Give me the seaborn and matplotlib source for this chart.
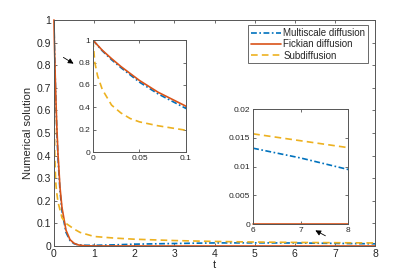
import numpy as np
import pandas as pd
import seaborn as sns
import matplotlib
matplotlib.use("Agg")
import matplotlib.pyplot as plt

# values
t_fick = [0, 0.01, 0.02, 0.03, 0.05, 0.07, 0.1, 0.15, 0.2, 0.3, 0.4, 0.5, 0.6, 0.7, 0.8, 1, 2, 3, 4, 5, 6, 7, 8]
fickian = [1, 0.91, 0.835, 0.765, 0.64, 0.535, 0.41, 0.26, 0.17, 0.07, 0.028, 0.012, 0.005, 0.002, 0.001, 0, 0, 0, 0, 0, 0, 0, 0]

t_multi = [0, 0.01, 0.02, 0.03, 0.05, 0.07, 0.1, 0.15, 0.2, 0.3, 0.4, 0.5, 0.6, 0.8, 1, 1.5, 2, 3, 4, 5, 6, 7, 8]
multiscale = [1, 0.905, 0.825, 0.755, 0.625, 0.52, 0.39, 0.245, 0.155, 0.06, 0.024, 0.01, 0.005, 0.003, 0.003, 0.005, 0.008, 0.011, 0.0135, 0.0138, 0.0132, 0.0115, 0.0095]

t_sub = [0, 0.002, 0.005, 0.01, 0.02, 0.03, 0.04, 0.05, 0.07, 0.1, 0.2, 0.3, 0.5, 0.65, 1, 1.5, 2, 3, 4, 5, 6, 7, 8]
subdiff = [1, 0.8, 0.68, 0.56, 0.42, 0.35, 0.3, 0.27, 0.235, 0.195, 0.125, 0.1, 0.075, 0.06, 0.042, 0.035, 0.03, 0.024, 0.02, 0.0175, 0.0157, 0.0145, 0.0133]

series = [
    ("Multiscale diffusion", t_multi, multiscale, "#0072BD", (0, (3.5, 1.5, 1, 1.5))),
    ("Fickian diffusion", t_fick, fickian, "#D95319", "-"),
    ("Subdiffusion", t_sub, subdiff, "#EDB120", (0, (4, 2.5))),
]

sns.set_style("ticks")
plt.rcParams["font.family"] = ["Liberation Sans", "DejaVu Sans"]
plt.rcParams["xtick.direction"] = "in"
plt.rcParams["ytick.direction"] = "in"

fig = plt.figure(figsize=(4.15, 2.77), dpi=100)
ax = fig.add_axes([0.130, 0.112, 0.774, 0.816])
ins1 = fig.add_axes([0.224, 0.451, 0.224, 0.404])
ins2 = fig.add_axes([0.610, 0.191, 0.229, 0.415])
xr = {ax: (0, 8), ins1: (0, 0.1), ins2: (6, 8)}

for a in (ax, ins1, ins2):
    lo, hi = xr[a]
    for name, t, y, c, ls in series:
        df = pd.DataFrame({"t": t, "y": y})
        df = df[(df.t >= lo) & (df.t <= hi)] if a is ins2 else df
        sns.lineplot(data=df, x="t", y="y", ax=a, color=c, linestyle=ls, linewidth=1.2,
                     label=name if a is ax else None)
    for s in a.spines.values():
        s.set_color("#555555")
        s.set_linewidth(0.7)
    a.tick_params(top=True, right=True, length=2.5, width=0.6, color="#555555",
                  labelcolor="#262626", pad=2)
    a.set_xlabel("")
    a.set_ylabel("")

ins2.lines[1].set_clip_on(False)
ax.lines[1].set_clip_on(False)

ax.set_xlim(0, 8)
ax.set_ylim(0, 1)
ax.set_xticks(range(9))
ax.set_yticks(np.round(np.arange(0, 1.01, 0.1), 1))
ax.set_yticklabels([f"{v:g}" for v in np.round(np.arange(0, 1.01, 0.1), 1)])
ax.tick_params(labelsize=7.5)
ax.set_xlabel("t", fontsize=8, color="#262626", labelpad=1)
ax.set_ylabel("Numerical solution", fontsize=8, color="#262626", labelpad=3)

ins1.set_xlim(0, 0.1)
ins1.set_ylim(0, 1)
ins1.set_xticks([0, 0.05, 0.1])
ins1.set_xticklabels(["0", "0.05", "0.1"])
ins1.set_yticks([0, 0.2, 0.4, 0.6, 0.8, 1])
ins1.set_yticklabels(["0", "0.2", "0.4", "0.6", "0.8", "1"])
ins1.tick_params(labelsize=6)

ins2.set_xlim(6, 8)
ins2.set_ylim(0, 0.02)
ins2.set_xticks([6, 7, 8])
ins2.set_yticks([0, 0.005, 0.01, 0.015, 0.02])
ins2.set_yticklabels(["0", "0.005", "0.01", "0.015", "0.02"])
ins2.tick_params(labelsize=6)

leg = ax.legend(loc="upper right", bbox_to_anchor=(0.985, 0.985), fontsize=7,
                frameon=True, fancybox=False, handlelength=3.0, handletextpad=0.3,
                borderpad=0.3, labelspacing=0.12, borderaxespad=0.2)
leg.get_frame().set_edgecolor("#262626")
leg.get_frame().set_linewidth(0.6)

fig.add_artist(matplotlib.patches.FancyArrowPatch(
    (0.147, 0.798), (0.183, 0.765), transform=fig.transFigure,
    arrowstyle="-|>", mutation_scale=8, color="black", linewidth=0.6))
fig.add_artist(matplotlib.patches.FancyArrowPatch(
    (0.790, 0.144), (0.754, 0.173), transform=fig.transFigure,
    arrowstyle="-|>", mutation_scale=8, color="black", linewidth=0.6))

fig.savefig("out.png", dpi=100)
